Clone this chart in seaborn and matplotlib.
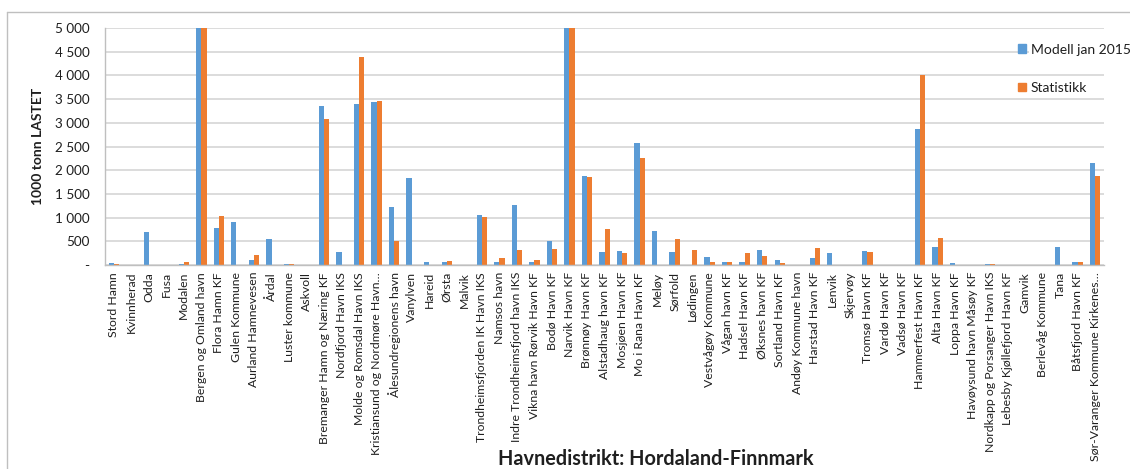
import matplotlib
matplotlib.use("Agg")
import matplotlib.pyplot as plt
from matplotlib.lines import Line2D
from matplotlib.ticker import FuncFormatter, FixedLocator
import seaborn as sns
import pandas as pd

havner = [
    "Stord Hamn", "Kvinnherad", "Odda", "Fusa", "Modalen",
    "Bergen og Omland havn", "Flora Hamn KF", "Gulen Kommune",
    "Aurland Hamnevesen", "Årdal", "Luster kommune", "Askvoll",
    "Bremanger Hamn og Næring KF", "Nordfjord Havn IKS",
    "Molde og Romsdal Havn IKS", "Kristiansund og Nordmøre Havn…",
    "Ålesundregionens havn", "Vanylven", "Hareid", "Ørsta", "Malvik",
    "Trondheimsfjorden IK Havn IKS", "Namsos havn",
    "Indre Trondheimsfjord havn IKS", "Vikna havn Rørvik Havn KF",
    "Bodø Havn KF", "Narvik Havn KF", "Brønnøy Havn KF",
    "Alstadhaug havn KF", "Mosjøen Havn KF", "Mo i Rana Havn KF",
    "Meløy", "Sørfold", "Lødingen", "Vestvågøy Kommune", "Vågan havn KF",
    "Hadsel Havn KF", "Øksnes havn KF", "Sortland Havn KF",
    "Andøy Kommune havn", "Harstad Havn KF", "Lenvik", "Skjervøy",
    "Tromsø Havn KF", "Vardø Havn KF", "Vadsø Havn KF",
    "Hammerfest Havn KF", "Alta Havn KF", "Loppa Havn KF",
    "Havøysund havn Måsøy KF", "Nordkapp og Porsanger Havn IKS",
    "Lebesby Kjøllefjord Havn KF", "Gamvik", "Berlevåg Kommune", "Tana",
    "Båtsfjord Havn KF", "Sør-Varanger Kommune Kirkenes…",
]

modell_jan_2015 = [
    50, 10, 700, 10, 15,
    5000, 790, 900,
    100, 550, 20, 10,
    3360, 265,
    3400, 3440,
    1230, 1830, 55, 55, 5,
    1050, 55,
    1260, 60,
    505, 5000, 1880,
    280, 300, 2580,
    715, 280, 5, 160, 55,
    55, 315, 110,
    5, 155, 245, 5,
    300, 5, 5,
    2860, 380, 50,
    10, 15,
    10, 5, 5, 390,
    60, 2160,
]

statistikk = [
    15, 0, 0, 10, 60,
    5000, 1035, 0,
    210, 10, 15, 0,
    3080, 0,
    4385, 3450,
    500, 0, 0, 75, 0,
    1005, 145,
    320, 105,
    335, 5000, 1850,
    765, 245, 2260,
    5, 540, 310, 70, 70,
    245, 190, 50,
    10, 350, 0, 5,
    280, 5, 5,
    4010, 570, 10,
    10, 15,
    0, 5, 5, 0,
    55, 1870,
]

serier = ["Modell jan 2015", "Statistikk"]
farger = ["#5B9BD5", "#ED7D31"]
y_ticks = [0, 500, 1000, 1500, 2000, 2500, 3000, 3500, 4000, 4500, 5000]

df = pd.DataFrame({
    "Havn": havner * 2,
    "Verdi": modell_jan_2015 + statistikk,
    "Serie": [serier[0]] * len(havner) + [serier[1]] * len(havner),
})

sns.set_style("white")
plt.rcParams["font.family"] = ["Lato", "DejaVu Sans"]

W, H = 1130, 469
fig = plt.figure(figsize=(W / 100, H / 100), dpi=100)
left, right, top, bottom = 105, 1104, 28, 265
ax = fig.add_axes([left / W, 1 - bottom / H, (right - left) / W, (bottom - top) / H])

sns.barplot(
    data=df, x="Havn", y="Verdi", hue="Serie", order=havner, hue_order=serier,
    palette=farger, saturation=1, width=0.6, errorbar=None, linewidth=0, ax=ax,
)

grid_c = "#D9D9D9"
axis_c = "#BFBFBF"
text_c = "#1F1F1F"

ax.set_xlim(-0.5, len(havner) - 0.5)
ax.set_ylim(0, 5000)
ax.yaxis.set_major_locator(FixedLocator(y_ticks))
ax.yaxis.set_major_formatter(FuncFormatter(
    lambda v, p: "-" if v == 0 else f"{int(v):,}".replace(",", " ")))
ax.grid(axis="y", color=grid_c, linewidth=1.3)
ax.grid(axis="x", visible=False)
ax.set_axisbelow(True)

for s in ["top", "right"]:
    ax.spines[s].set_visible(False)
for s in ["left", "bottom"]:
    ax.spines[s].set_color(axis_c)
    ax.spines[s].set_linewidth(1.0)

ax.tick_params(axis="y", length=5, width=1.0, color=axis_c, labelsize=9.7,
               labelcolor=text_c, pad=6)
ax.set_xticks(range(len(havner)))
ax.set_xticklabels(havner, rotation=90, fontsize=8.8, color=text_c)
ax.tick_params(axis="x", which="major", length=0, pad=5)
ax.set_xticks([i - 0.5 for i in range(len(havner) + 1)], minor=True)
ax.tick_params(axis="x", which="minor", length=4, width=1.0, color=axis_c)

ax.set_xlabel("")
ax.set_ylabel("1000 tonn LASTET", fontsize=10, fontweight="bold", color=text_c,
              labelpad=8)

fig.text(656 / W, 1 - 459 / H, "Havnedistrikt: Hordaland-Finnmark",
         ha="center", va="center", fontsize=14.3, fontweight="bold", color=text_c)

ax.legend_.remove()
handles = [plt.Rectangle((0, 0), 1, 1, color=c) for c in farger]
leg = fig.legend(handles, serier, loc="upper left",
                 bbox_to_anchor=(1012 / W, 1 - 38 / H), frameon=False,
                 fontsize=10, handlelength=0.6, handleheight=0.6,
                 handletextpad=0.35, labelspacing=1.9, borderaxespad=0)
for t in leg.get_texts():
    t.set_color(text_c)
    t.set_bbox(dict(facecolor="white", edgecolor="none", pad=1))

# chart-area border
fig.add_artist(Line2D([7 / W, 7 / W], [0, 1 - 12 / H], color=axis_c, linewidth=1.0))
fig.add_artist(Line2D([7 / W, 1], [1 - 12 / H, 1 - 12 / H], color=axis_c, linewidth=1.0))

fig.savefig("out.png", dpi=100, facecolor="white")
